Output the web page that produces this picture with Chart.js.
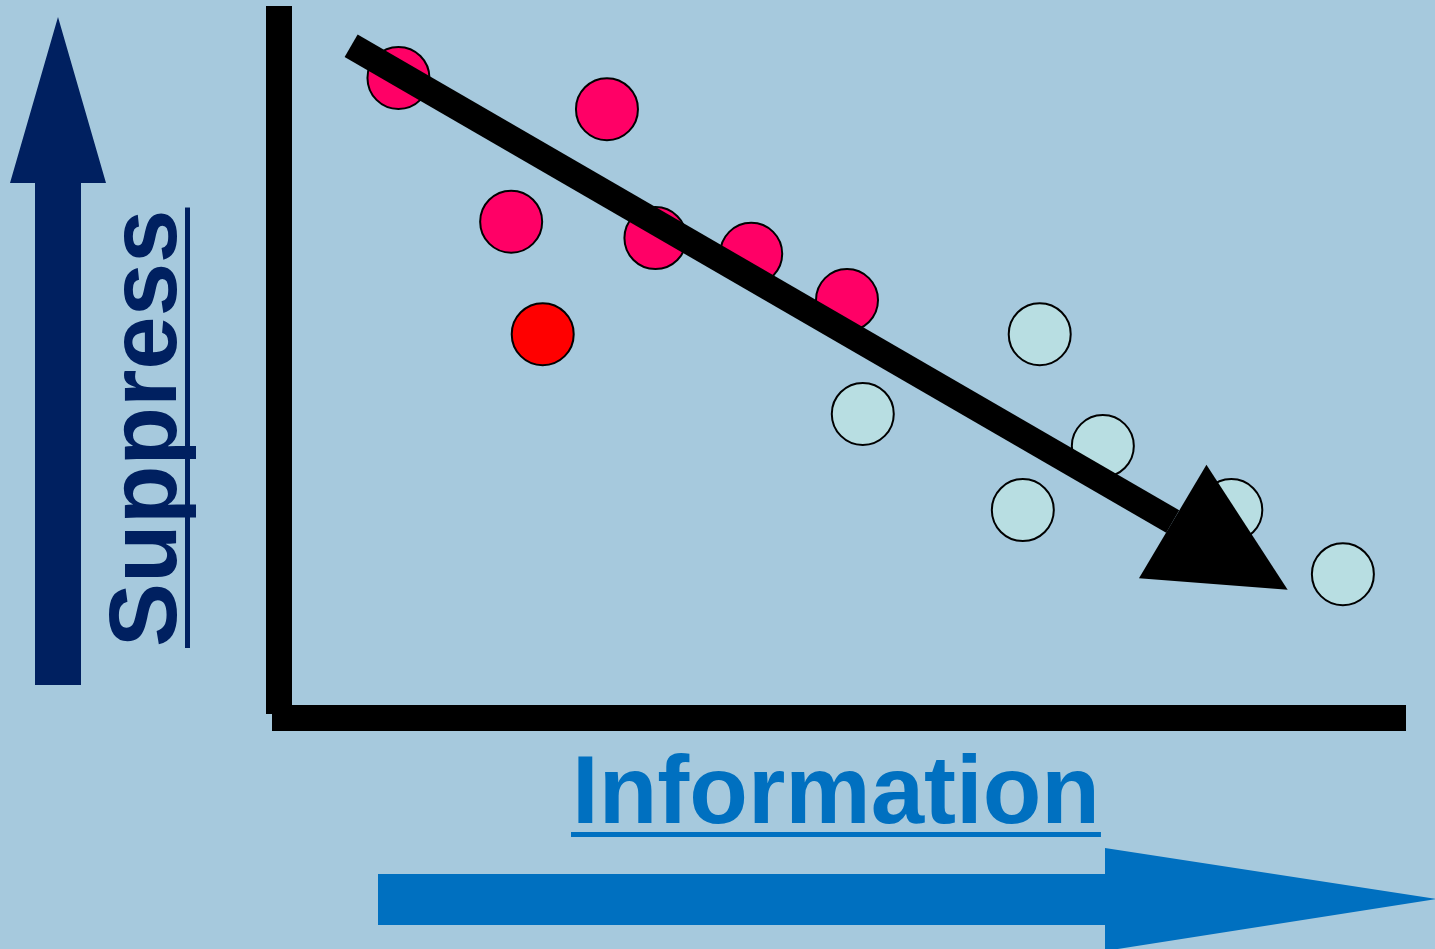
<!DOCTYPE html>
<html>
<head>
<meta charset="utf-8">
<script src="https://cdn.jsdelivr.net/npm/chart.js@4/dist/chart.umd.min.js"></script>
<style>
  html, body { margin: 0; padding: 0; background: #A6C9DD; }
  #wrap { width: 1435px; height: 949px; }
</style>
</head>
<body>
<div id="wrap"><canvas id="c" width="1435" height="949"></canvas></div>
<script>
// ---- data ----
const pinkX = [10.6, 29.1, 20.6, 33.4, 41.9, 50.4];
const pinkY = [89.9, 85.5, 69.7, 67.4, 65.2, 58.7];
const redX  = [23.4];
const redY  = [53.9];
const cyanX = [67.5, 51.8, 73.1, 66.0, 84.5, 94.4];
const cyanY = [53.9, 42.7, 38.2, 29.2, 29.2, 20.2];
const trendX = [6.4, 79.3];
const trendY = [94.4, 27.6];
const trendTip = [89.5, 18.0];
const xTitle = "Information";
const yTitle = "Suppress";

const toPts = (xs, ys) => xs.map((x, i) => ({ x: x, y: ys[i] }));

const decor = {
  id: 'decor',
  beforeDraw(chart) {
    const ctx = chart.ctx;
    ctx.save();
    ctx.fillStyle = '#A6C9DD';
    ctx.fillRect(0, 0, chart.width, chart.height);
    ctx.restore();
  },
  beforeDatasetsDraw(chart) {
    const ctx = chart.ctx, ca = chart.chartArea;
    ctx.save();
    ctx.fillStyle = '#000000';
    ctx.fillRect(ca.left - 13, ca.top, 26, ca.bottom - 4 - ca.top);
    ctx.fillRect(ca.left - 7, ca.bottom - 13, ca.right - (ca.left - 7), 26);
    ctx.restore();
  },
  afterDatasetsDraw(chart) {
    const ctx = chart.ctx;
    const xs = chart.scales.x, ys = chart.scales.y;
    const bx = xs.getPixelForValue(trendX[1]), by = ys.getPixelForValue(trendY[1]);
    const tx = xs.getPixelForValue(trendTip[0]), ty = ys.getPixelForValue(trendTip[1]);
    const dx = tx - bx, dy = ty - by, len = Math.hypot(dx, dy);
    const px = -dy / len, py = dx / len, hw = 66;
    ctx.save();
    ctx.fillStyle = '#000000';
    ctx.beginPath();
    ctx.moveTo(bx + px * hw, by + py * hw);
    ctx.lineTo(tx, ty);
    ctx.lineTo(bx - px * hw, by - py * hw);
    ctx.closePath();
    ctx.fill();
    ctx.restore();
  },
  afterDraw(chart) {
    const ctx = chart.ctx;
    ctx.save();
    // Up arrow (Suppress)
    ctx.fillStyle = '#002060';
    ctx.beginPath();
    ctx.moveTo(35, 685); ctx.lineTo(35, 183); ctx.lineTo(10, 183);
    ctx.lineTo(58, 17); ctx.lineTo(106, 183); ctx.lineTo(81, 183);
    ctx.lineTo(81, 685); ctx.closePath(); ctx.fill();
    // Right arrow (Information)
    ctx.fillStyle = '#0070C0';
    ctx.beginPath();
    ctx.moveTo(378, 874); ctx.lineTo(1105, 874); ctx.lineTo(1105, 848);
    ctx.lineTo(1436, 899); ctx.lineTo(1105, 951); ctx.lineTo(1105, 925);
    ctx.lineTo(378, 925); ctx.closePath(); ctx.fill();

    ctx.font = 'bold 96px "Liberation Sans", Arial, sans-serif';
    ctx.textBaseline = 'alphabetic';
    ctx.textAlign = 'left';
    // Information
    ctx.fillStyle = '#0070C0';
    const wi = ctx.measureText(xTitle).width;
    ctx.fillText(xTitle, 572, 823);
    ctx.fillRect(571, 832, wi + 2, 5);
    // Suppress (rotated)
    ctx.fillStyle = '#002060';
    ctx.translate(176, 647);
    ctx.rotate(-Math.PI / 2);
    const ws = ctx.measureText(yTitle).width;
    ctx.fillText(yTitle, 0, 0);
    ctx.fillRect(-1, 9, ws + 3, 5);
    ctx.restore();
  }
};

new Chart(document.getElementById('c'), {
  type: 'scatter',
  data: {
    datasets: [
      {
        type: 'line', label: 'trend', data: toPts(trendX, trendY),
        borderColor: '#000000', borderWidth: 26, borderCapStyle: 'butt',
        pointRadius: 0, fill: false, tension: 0, order: 0
      },
      {
        label: 'pink', data: toPts(pinkX, pinkY),
        backgroundColor: '#FF0066', borderColor: '#000000', borderWidth: 2,
        pointRadius: 31, order: 1
      },
      {
        label: 'red', data: toPts(redX, redY),
        backgroundColor: '#FF0000', borderColor: '#000000', borderWidth: 2,
        pointRadius: 31, order: 1
      },
      {
        label: 'cyan', data: toPts(cyanX, cyanY),
        backgroundColor: '#B8DEE2', borderColor: '#000000', borderWidth: 2,
        pointRadius: 31, order: 1
      }
    ]
  },
  options: {
    responsive: false,
    animation: false,
    layout: { autoPadding: false, padding: { left: 279, right: 29, top: 6, bottom: 231 } },
    plugins: { legend: { display: false }, tooltip: { enabled: false } },
    events: [],
    scales: {
      x: { type: 'linear', min: 0, max: 100, display: false },
      y: { type: 'linear', min: 0, max: 100, display: false }
    }
  },
  plugins: [decor]
});
</script>
</body>
</html>
